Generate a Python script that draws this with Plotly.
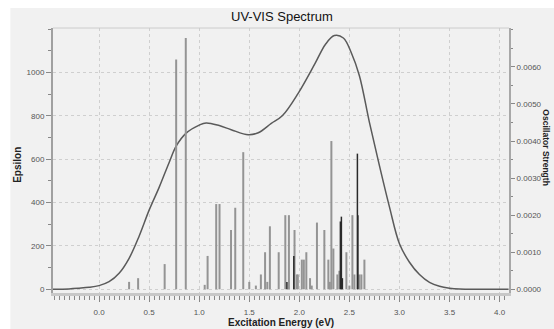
import plotly.graph_objects as go

# Broadened spectrum (Epsilon)
curve_e = [-0.46, -0.3, -0.2, -0.1, 0.0, 0.1, 0.2, 0.3, 0.4, 0.5, 0.6, 0.7, 0.77, 0.87, 1.0, 1.07,
           1.2, 1.32, 1.49, 1.59, 1.72, 1.83, 1.99, 2.16, 2.26, 2.35, 2.44, 2.52, 2.60, 2.70,
           2.80, 2.90, 3.0, 3.1, 3.2, 3.3, 3.4, 3.5, 3.6, 3.8, 4.09]
curve_eps = [0, 2, 5, 9, 17, 35, 74, 143, 245, 365, 470, 585, 660, 720, 757, 767,
             755, 736, 713, 722, 765, 800, 905, 1044, 1129, 1170, 1159, 1090, 985, 770,
             570, 380, 210, 125, 68, 32, 14, 5, 1, 0, 0]

# Oscillator strength sticks (grey)
stick_e = [0.30, 0.39, 0.655, 0.77, 0.866, 1.055, 1.084, 1.17, 1.203, 1.318, 1.36, 1.44,
           1.50, 1.566, 1.616, 1.658, 1.68, 1.706, 1.794, 1.86, 1.896, 1.952, 1.975, 1.985,
           2.025, 2.045, 2.07, 2.107, 2.124, 2.176, 2.25, 2.29, 2.305, 2.32, 2.34, 2.38,
           2.40, 2.47, 2.50, 2.53, 2.55, 2.60, 2.62, 2.65]
stick_f = [0.0002, 0.0003, 0.00068, 0.0062, 0.00678, 0.00012, 0.0009, 0.0023, 0.0023, 0.0016,
           0.0022, 0.0037, 0.0002, 0.0001, 0.0004, 0.001, 0.0002, 0.0017, 0.001, 0.002,
           0.002, 0.0016, 0.0004, 0.0004, 0.0008, 0.0008, 0.001, 0.0003, 0.0001, 0.0018,
           0.0016, 0.0008, 0.0002, 0.0040, 0.0011, 0.0004, 0.0005, 0.001, 0.0001, 0.002,
           0.0004, 0.0004, 0.0004, 0.0008]
# darker sticks
dark_e = [1.876, 1.945, 2.41, 2.42, 2.43, 2.58, 2.585]
dark_f = [0.0002, 0.0009, 0.00183, 0.00196, 0.0003, 0.00366, 0.002]

x_ticks = [0.0, 0.5, 1.0, 1.5, 2.0, 2.5, 3.0, 3.5, 4.0]
y_ticks = [0, 200, 400, 600, 800, 1000]
y2_ticks = [0.0, 0.001, 0.002, 0.003, 0.004, 0.005, 0.006]


def sticks(xs, ys):
    sx, sy = [], []
    for x, y in zip(xs, ys):
        sx += [x, x, None]
        sy += [0, y, None]
    return sx, sy


fig = go.Figure()
gx, gy = sticks(stick_e, stick_f)
fig.add_trace(go.Scatter(x=gx, y=gy, mode="lines", yaxis="y2",
                         line=dict(color="#949494", width=2), showlegend=False))
dx, dy = sticks(dark_e, dark_f)
fig.add_trace(go.Scatter(x=dx, y=dy, mode="lines", yaxis="y2",
                         line=dict(color="#2a2a2a", width=1.5), showlegend=False))
fig.add_trace(go.Scatter(x=curve_e, y=curve_eps, mode="lines",
                         line=dict(color="#5a5a5a", width=1.5, shape="spline", smoothing=1.0),
                         showlegend=False))

L, R, T, B = 53, 513, 28, 293
W, H = R - L, B - T


def px(x):
    return (x - L) / W


def py(y):
    return (B - y) / H


tickfont = dict(family="Liberation Sans, Arial, sans-serif", size=8, color="#555555")
titlefont = dict(family="Liberation Sans, Arial, sans-serif", size=10, color="#222222")

fig.update_layout(
    width=554, height=329,
    margin=dict(l=L, r=554 - R, t=T, b=329 - B),
    paper_bgcolor="white", plot_bgcolor="white",
    xaxis=dict(range=[-0.46, 4.094], tickvals=x_ticks, ticktext=[f"{v:.1f}" for v in x_ticks],
               ticks="outside", ticklen=6, tickcolor="#888888", tickwidth=1,
               minor=dict(dtick=0.05, tick0=0, ticks="outside", ticklen=4, tickcolor="#888888", showgrid=False),
               showgrid=True, gridcolor="#cfcfcf", griddash="dot", gridwidth=1,
               showline=True, linecolor="#c8c8c8", linewidth=3, ticklabelstandoff=3,
               zeroline=False, tickfont=tickfont),
    yaxis=dict(range=[-17, 1205], tickvals=y_ticks, ticks="outside", ticklen=5,
               tickcolor="#888888",
               minor=dict(dtick=100, tick0=0, ticks="outside", ticklen=3, tickcolor="#888888", showgrid=False),
               showgrid=True, gridcolor="#cfcfcf", griddash="dot", gridwidth=1,
               showline=True, linecolor="#a0a0a0", linewidth=2,
               zeroline=False, tickfont=tickfont),
    yaxis2=dict(range=[-0.0001, 0.00705], overlaying="y", side="right",
                tickvals=y2_ticks, ticktext=[f"{v:.4f}" for v in y2_ticks],
                ticks="outside", ticklen=4, tickcolor="#888888",
                minor=dict(dtick=0.0005, tick0=0, ticks="outside", ticklen=2, tickcolor="#888888", showgrid=False),
                showgrid=False, showline=True, linecolor="#a8a8a8", linewidth=2,
                zeroline=False, tickfont=tickfont),
    shapes=[
        dict(type="rect", xref="paper", yref="paper", x0=px(10), x1=px(600), y0=py(8), y1=py(400),
             fillcolor="#f1f1f1", line=dict(width=0), layer="below"),
        dict(type="line", xref="paper", yref="paper", x0=0, x1=1, y0=1, y1=1,
             line=dict(color="#cccccc", width=1)),
    ],
    annotations=[
        dict(text="UV-VIS Spectrum", xref="paper", yref="paper", x=px(284.5), y=py(16.5),
             xanchor="center", yanchor="middle", showarrow=False,
             font=dict(family="Liberation Sans, Arial, sans-serif", size=13, color="#111111")),
        dict(text="<b>Epsilon</b>", xref="paper", yref="paper", x=px(16.5), y=py(165),
             xanchor="center", yanchor="middle", textangle=-90, showarrow=False, font=titlefont),
        dict(text="<b>Excitation Energy (eV)</b>", xref="paper", yref="paper", x=px(283), y=py(322),
             xanchor="center", yanchor="middle", showarrow=False, font=titlefont),
        dict(text="<b>Oscillator Strength</b>", xref="paper", yref="paper", x=px(550), y=py(148),
             xanchor="center", yanchor="middle", textangle=90, showarrow=False,
             font=dict(family="Liberation Sans, Arial, sans-serif", size=8.5, color="#222222")),
    ],
)

fig.write_html("out.html")
